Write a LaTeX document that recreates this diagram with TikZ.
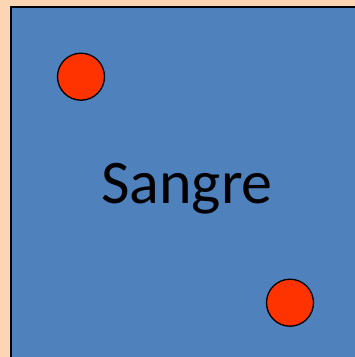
\documentclass[tikz,border=0pt]{standalone}
\usepackage{fontspec}
\setmainfont{Carlito}
\definecolor{peach}{HTML}{FCD5B5}
\definecolor{boxblue}{HTML}{4F81BD}
\definecolor{dotred}{HTML}{FF3300}
\begin{document}
\begin{tikzpicture}[x=1pt,y=-1pt,
  dot/.style={circle,draw=black,line width=1.3pt,fill=dotred,minimum size=47pt,inner sep=0pt}]
\useasboundingbox (0,0) rectangle (355,357);
\fill[peach] (0,0) rectangle (355,357);
\draw[fill=boxblue,line width=1.6pt] (11,7) rectangle (380,380);
\node[dot] (d1) at (81,76.7) {};
\node[dot] (d2) at (290,302.7) {};
\node[font=\fontsize{62}{64}\selectfont,anchor=base,inner sep=0pt] (lbl) at (187,203.3) {Sangre};
\end{tikzpicture}
\end{document}
